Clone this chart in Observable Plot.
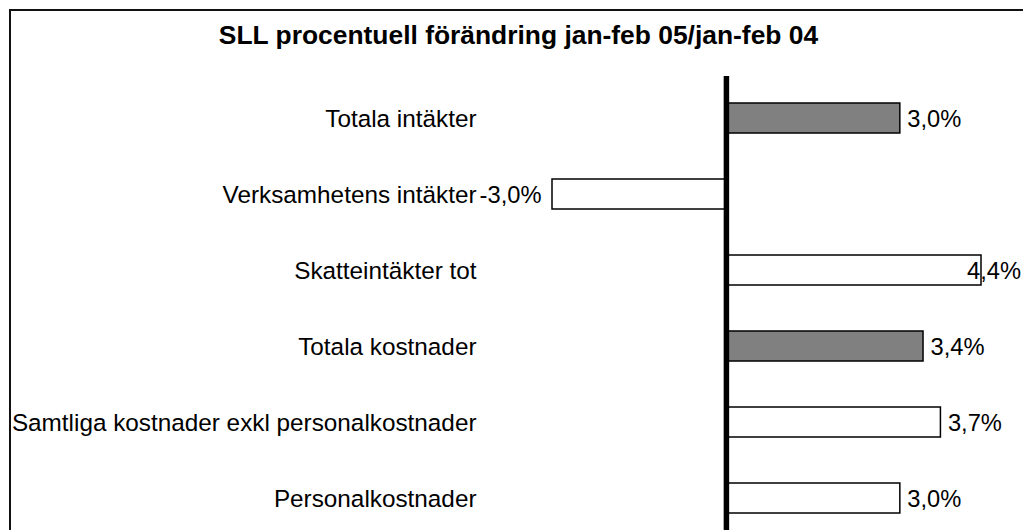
<!DOCTYPE html>
<html>
<head>
<meta charset="utf-8">
<script src="https://cdn.jsdelivr.net/npm/d3@7"></script>
<script src="https://cdn.jsdelivr.net/npm/@observablehq/plot@0.6"></script>
<style>
  html, body { margin: 0; padding: 0; background: #fff; }
  #wrap { position: relative; width: 1023px; height: 530px; overflow: hidden; background: #fff; }
  #frame { position: absolute; left: 9px; top: 9px; width: 1040px; height: 560px; border: 2.5px solid #111; box-sizing: border-box; }
  #title { position: absolute; left: 9px; width: 1019px; top: 22px; text-align: center;
           font-family: "Liberation Sans", Arial, sans-serif; font-weight: bold; font-size: 26.4px; color: #000; line-height: 1; }
  #chart { position: absolute; left: 0; top: 0; }
</style>
</head>
<body>
<div id="wrap">
  <div id="frame"></div>
  <div id="title">SLL procentuell förändring jan-feb 05/jan-feb 04</div>
  <div id="chart"></div>
</div>
<script>
const categories = [
  "Totala intäkter",
  "Verksamhetens intäkter",
  "Skatteintäkter tot",
  "Totala kostnader",
  "Samtliga kostnader exkl personalkostnader",
  "Personalkostnader"
];
const values = [3.0, -3.0, 4.4, 3.4, 3.7, 3.0];
const groups = ["Totalt", "Delpost", "Delpost", "Totalt", "Delpost", "Delpost"];

const data = categories.map((c, i) => ({category: c, value: values[i], group: groups[i]}));
const fmt = v => v.toFixed(1).replace(".", ",") + "%";
const font = "Liberation Sans, Arial, sans-serif";

const plot = Plot.plot({
  width: 1023,
  height: 530,
  marginTop: 76,
  marginBottom: 0,
  marginLeft: 484,
  marginRight: 0,
  style: {fontFamily: font, fontSize: "23.7px", color: "#000", background: "transparent", overflow: "visible"},
  x: {domain: [-3, 4.4], range: [552, 981], axis: null},
  y: {domain: categories, range: [80, 537], paddingInner: 0.6, paddingOuter: 0.3, axis: null},
  color: {domain: ["Totalt", "Delpost"], range: ["#808080", "#ffffff"]},
  marks: [
    Plot.axisY({anchor: "left", tickSize: 0, tickPadding: 8, label: null, fontSize: 24.3, dy: 1, fill: "#000"}),
    Plot.barX(data, {x: "value", y: "category", fill: "group", stroke: "#000", strokeWidth: 1.5}),
    Plot.ruleX([0], {stroke: "#000", strokeWidth: 5.5}),
    Plot.text(data.filter(d => d.value >= 0), {
      x: "value", y: "category", text: d => fmt(d.value), textAnchor: "start", dx: 7, dy: 1,
      fill: "#000", fontSize: 23.7, className: "vlabel"
    }),
    Plot.text(data.filter(d => d.value < 0), {
      x: "value", y: "category", text: d => fmt(d.value), textAnchor: "end", dx: -11, dy: 1,
      fill: "#000", fontSize: 23.7, className: "vlabel"
    })
  ]
});
document.getElementById("chart").appendChild(plot);

// Keep value labels inside the visible chart area (as the original spreadsheet does)
const frameRight = 1021;
plot.querySelectorAll(".vlabel text").forEach(el => {
  const b = el.getBBox();
  const ctm = el.getCTM();
  const right = ctm ? ctm.e + (b.x + b.width) * ctm.a : b.x + b.width;
  if (right > frameRight) {
    const shift = frameRight - right;
    el.setAttribute("transform", (el.getAttribute("transform") || "") + ` translate(${shift},0)`);
  }
});
</script>
</body>
</html>
